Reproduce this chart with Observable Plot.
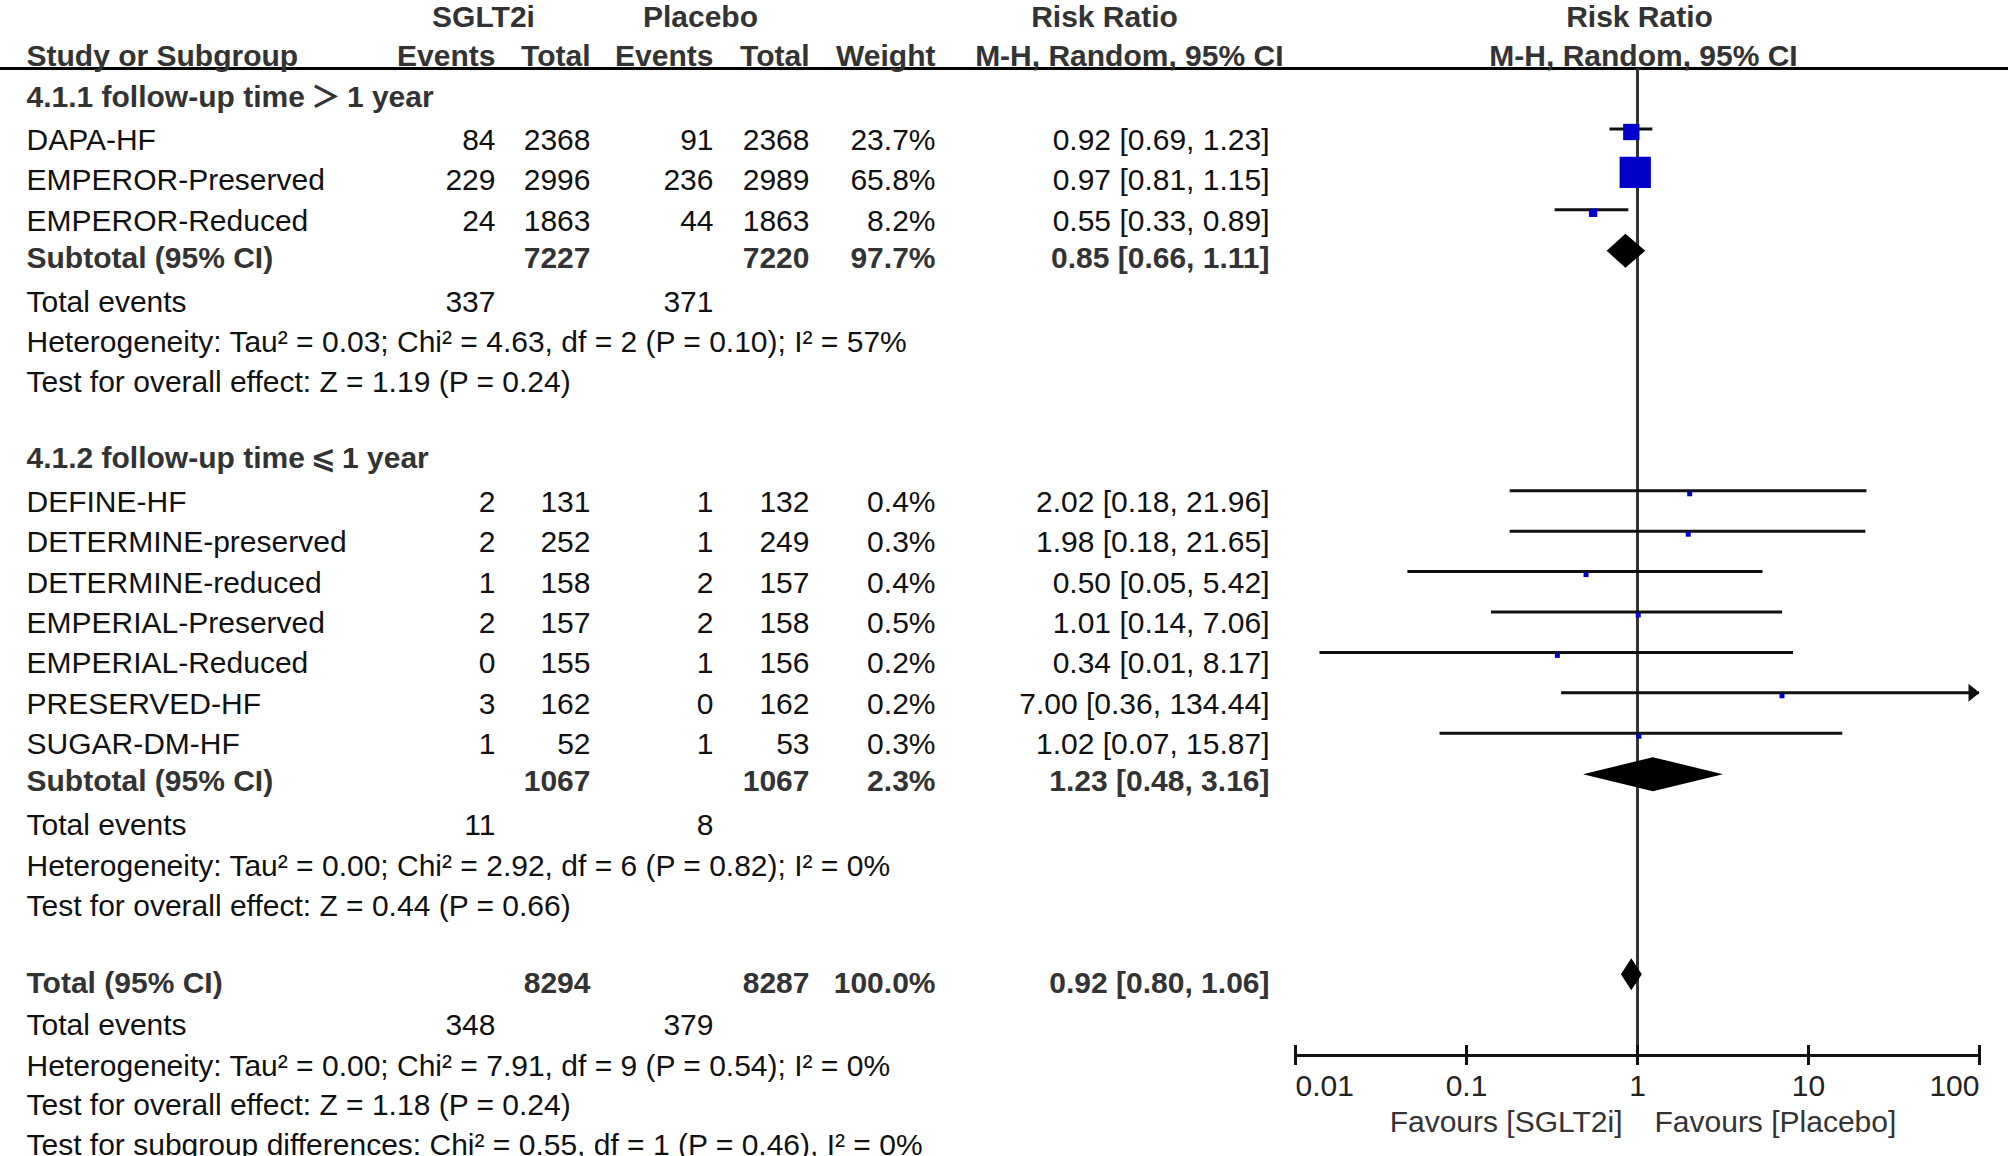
<!DOCTYPE html>
<html>
<head>
<meta charset="utf-8">
<script src="https://cdn.jsdelivr.net/npm/d3@7"></script>
<script src="https://cdn.jsdelivr.net/npm/@observablehq/plot@0.6"></script>
<style>
html, body { margin: 0; padding: 0; background: #fff; overflow: hidden; }
</style>
</head>
<body>
<div id="chart"></div>
<script>
// ---------------- DATA ----------------
const groupLabels = ["4.1.1 follow-up time\u2009\uFF1E\u20091 year", "4.1.2 follow-up time\u2009\u2A7D\u20091 year"];

const g1Study = ["DAPA-HF", "EMPEROR-Preserved", "EMPEROR-Reduced"];
const g1EventsSGLT2i = [84, 229, 24];
const g1TotalSGLT2i = [2368, 2996, 1863];
const g1EventsPlacebo = [91, 236, 44];
const g1TotalPlacebo = [2368, 2989, 1863];
const g1Weight = [23.7, 65.8, 8.2];
const g1RR = [0.92, 0.97, 0.55];
const g1Lower = [0.69, 0.81, 0.33];
const g1Upper = [1.23, 1.15, 0.89];

const g2Study = ["DEFINE-HF", "DETERMINE-preserved", "DETERMINE-reduced", "EMPERIAL-Preserved", "EMPERIAL-Reduced", "PRESERVED-HF", "SUGAR-DM-HF"];
const g2EventsSGLT2i = [2, 2, 1, 2, 0, 3, 1];
const g2TotalSGLT2i = [131, 252, 158, 157, 155, 162, 52];
const g2EventsPlacebo = [1, 1, 2, 2, 1, 0, 1];
const g2TotalPlacebo = [132, 249, 157, 158, 156, 162, 53];
const g2Weight = [0.4, 0.3, 0.4, 0.5, 0.2, 0.2, 0.3];
const g2RR = [2.02, 1.98, 0.50, 1.01, 0.34, 7.00, 1.02];
const g2Lower = [0.18, 0.18, 0.0454, 0.14, 0.0139, 0.36, 0.07];
const g2Upper = [21.96, 21.65, 5.42, 7.06, 8.17, 134.44, 15.87];

const subTotalSGLT2i = [7227, 1067];
const subTotalPlacebo = [7220, 1067];
const subWeight = [97.7, 2.3];
const subRR = [0.85, 1.23];
const subLower = [0.66, 0.48];
const subUpper = [1.11, 3.16];
const subEventsSGLT2i = [337, 11];
const subEventsPlacebo = [371, 8];
const subHeterogeneity = [
  "Heterogeneity: Tau\u00B2 = 0.03; Chi\u00B2 = 4.63, df = 2 (P = 0.10); I\u00B2 = 57%",
  "Heterogeneity: Tau\u00B2 = 0.00; Chi\u00B2 = 2.92, df = 6 (P = 0.82); I\u00B2 = 0%"
];
const subOverall = [
  "Test for overall effect: Z = 1.19 (P = 0.24)",
  "Test for overall effect: Z = 0.44 (P = 0.66)"
];

const totalTotals = [8294, 8287];
const totalWeight = 100.0;
const totalRR = 0.92, totalLower = 0.80, totalUpper = 1.06;
const totalEvents = [348, 379];
const totalHeterogeneity = "Heterogeneity: Tau\u00B2 = 0.00; Chi\u00B2 = 7.91, df = 9 (P = 0.54); I\u00B2 = 0%";
const totalOverall = "Test for overall effect: Z = 1.18 (P = 0.24)";
const subgroupTest = "Test for subgroup differences: Chi\u00B2 = 0.55, df = 1 (P = 0.46), I\u00B2 = 0%";

const headerGroups = ["SGLT2i", "Placebo"];
const headerColumns = ["Study or Subgroup", "Events", "Total", "Events", "Total", "Weight"];
const headerEffect = ["Risk Ratio", "M-H, Random, 95% CI"];
const axisTicks = [0.01, 0.1, 1, 10, 100];
const tickLabels = ["0.01", "0.1", "1", "10", "100"];
const favourLabels = ["Favours [SGLT2i]", "Favours [Placebo]"];

// ---------------- LAYOUT ----------------
const FONT = '"Liberation Sans", Arial, "Noto Sans CJK SC", "DejaVu Sans", sans-serif';
const FS = 30;
const cols = {
  name:   {px: 26,   anchor: "start"},
  ev1:    {px: 495,  anchor: "end"},
  tot1:   {px: 590,  anchor: "end"},
  ev2:    {px: 713,  anchor: "end"},
  tot2:   {px: 809,  anchor: "end"},
  weight: {px: 935,  anchor: "end"},
  ci:     {px: 1269, anchor: "end"},
  grp1:   {px: 483,  anchor: "middle"},
  grp2:   {px: 700,  anchor: "middle"},
  rrHead: {px: 1104, anchor: "middle"},
  mhHead: {px: 1283, anchor: "end"}
};
const f2 = v => v.toFixed(2);
const ciText = (rr, lo, hi) => `${f2(rr)} [${f2(lo)}, ${f2(hi)}]`;
const pct = w => w.toFixed(1) + "%";

const groups = [
  {label: groupLabels[0], study: g1Study, e1: g1EventsSGLT2i, t1: g1TotalSGLT2i, e2: g1EventsPlacebo, t2: g1TotalPlacebo, w: g1Weight, rr: g1RR, lo: g1Lower, hi: g1Upper},
  {label: groupLabels[1], study: g2Study, e1: g2EventsSGLT2i, t1: g2TotalSGLT2i, e2: g2EventsPlacebo, t2: g2TotalPlacebo, w: g2Weight, rr: g2RR, lo: g2Lower, hi: g2Upper}
];

const cells = [];
const studyMarks = [];
const diamonds = [];
const cell = (col, y, text, bold = false) => cells.push({col, y, text: String(text), bold});

// header rows
cell("grp1", 26, headerGroups[0], true);
cell("grp2", 26, headerGroups[1], true);
cell("rrHead", 26, headerEffect[0], true);
["name", "ev1", "tot1", "ev2", "tot2", "weight"].forEach((c, i) => cell(c, 65, headerColumns[i], true));
cell("mhHead", 65, headerEffect[1], true);

let yb = 106;
groups.forEach((g, gi) => {
  if (gi > 0) yb += 76;
  cell("name", yb, g.label, true);
  yb += 43.5;
  g.study.forEach((s, i) => {
    if (i > 0) yb += 40.4;
    cell("name", yb, s);
    cell("ev1", yb, g.e1[i]);
    cell("tot1", yb, g.t1[i]);
    cell("ev2", yb, g.e2[i]);
    cell("tot2", yb, g.t2[i]);
    cell("weight", yb, pct(g.w[i]));
    cell("ci", yb, ciText(g.rr[i], g.lo[i], g.hi[i]));
    studyMarks.push({rr: g.rr[i], lo: g.lo[i], hi: g.hi[i], w: g.w[i], y: yb - 21});
  });
  yb += 37;
  cell("name", yb, "Subtotal (95% CI)", true);
  cell("tot1", yb, subTotalSGLT2i[gi], true);
  cell("tot2", yb, subTotalPlacebo[gi], true);
  cell("weight", yb, pct(subWeight[gi]), true);
  cell("ci", yb, ciText(subRR[gi], subLower[gi], subUpper[gi]), true);
  diamonds.push({id: "sub" + gi, rr: subRR[gi], lo: subLower[gi], hi: subUpper[gi], y: yb - 17, h: 17});
  yb += 44;
  cell("name", yb, "Total events");
  cell("ev1", yb, subEventsSGLT2i[gi]);
  cell("ev2", yb, subEventsPlacebo[gi]);
  yb += 40.5;
  cell("name", yb, subHeterogeneity[gi]);
  yb += 40;
  cell("name", yb, subOverall[gi]);
});
yb += 77.5;
cell("name", yb, "Total (95% CI)", true);
cell("tot1", yb, totalTotals[0], true);
cell("tot2", yb, totalTotals[1], true);
cell("weight", yb, pct(totalWeight), true);
cell("ci", yb, ciText(totalRR, totalLower, totalUpper), true);
diamonds.push({id: "total", rr: totalRR, lo: totalLower, hi: totalUpper, y: yb - 19, h: 16});
yb += 42;
cell("name", yb, "Total events");
cell("ev1", yb, totalEvents[0]);
cell("ev2", yb, totalEvents[1]);
yb += 41;
cell("name", yb, totalHeterogeneity);
yb += 39;
cell("name", yb, totalOverall);
yb += 40;
cell("name", yb, subgroupTest);

const diamondPts = diamonds.flatMap(d => [
  {id: d.id, x: d.lo, y: d.y}, {id: d.id, x: d.rr, y: d.y - d.h},
  {id: d.id, x: d.hi, y: d.y}, {id: d.id, x: d.rr, y: d.y + d.h}, {id: d.id, x: d.lo, y: d.y}
]);

const xMin = d3.min(axisTicks), xMax = d3.max(axisTicks);
const maxW = d3.max(studyMarks, d => d.w);
const squareSide = w => Math.max(5, 31.3 * Math.pow(w / maxW, 0.636));
const arrowHead = {draw(ctx) { ctx.moveTo(0, 0); ctx.lineTo(-11, -9); ctx.lineTo(-11, 9); ctx.closePath(); }};

const HEADER_LINE_Y = 68, AXIS_Y = 1055;

const textMarks = [];
for (const [key, c] of Object.entries(cols)) {
  for (const bold of [false, true]) {
    const data = cells.filter(d => d.col === key && d.bold === bold);
    if (!data.length) continue;
    textMarks.push(Plot.text(data, {
      frameAnchor: "left", dx: c.px, y: "y", text: "text",
      textAnchor: c.anchor, lineAnchor: "bottom",
      fontSize: FS, fontFamily: FONT, fontWeight: bold ? "bold" : "normal",
      fill: bold ? "#333" : "#111"
    }));
  }
}

const chart = Plot.plot({
  width: 2008,
  height: 1156,
  margin: 0,
  style: {background: "#fff", fontFamily: FONT},
  x: {type: "log", domain: [xMin, xMax], range: [1295, 1979], axis: null},
  y: {type: "identity", axis: null},
  r: {type: "identity"},
  marks: [
    Plot.ruleY([HEADER_LINE_Y], {stroke: "#000", strokeWidth: 3}),
    Plot.ruleX([1], {y1: HEADER_LINE_Y, y2: AXIS_Y, stroke: "#333", strokeWidth: 3}),
    // CI lines
    Plot.ruleY(studyMarks, {y: "y", x1: "lo", x2: d => Math.min(d.hi, xMax), stroke: "#111", strokeWidth: 3}),
    Plot.dot(studyMarks.filter(d => d.hi > xMax), {x: d => Math.min(d.hi, xMax), y: "y", symbol: arrowHead, r: 5, fill: "#111", stroke: "none"}),
    // weighted squares
    Plot.dot(studyMarks, {x: "rr", y: d => d.y + 3, symbol: "square", r: d => squareSide(d.w) / Math.sqrt(Math.PI), fill: "#0000c8", stroke: "none"}),
    // diamonds
    Plot.line(diamondPts, {x: "x", y: "y", z: "id", fill: "#000", stroke: "none", curve: "linear"}),
    // axis
    Plot.ruleY([AXIS_Y], {x1: xMin, x2: xMax, stroke: "#111", strokeWidth: 3}),
    Plot.ruleX(axisTicks, {y1: AXIS_Y - 10, y2: AXIS_Y + 10, stroke: "#111", strokeWidth: 3}),
    Plot.text(axisTicks.slice(0, 1), {x: d => d, y: 1095, text: () => tickLabels[0], textAnchor: "start", lineAnchor: "bottom", fontSize: FS, fontFamily: FONT, fill: "#222"}),
    Plot.text(axisTicks.slice(1, -1), {x: d => d, y: 1095, text: (d, i) => tickLabels[i + 1], textAnchor: "middle", lineAnchor: "bottom", fontSize: FS, fontFamily: FONT, fill: "#222"}),
    Plot.text(axisTicks.slice(-1), {x: d => d, y: 1095, text: () => tickLabels[tickLabels.length - 1], textAnchor: "end", lineAnchor: "bottom", fontSize: FS, fontFamily: FONT, fill: "#222"}),
    Plot.text([favourLabels[0]], {x: () => 1, y: 1131, text: d => d, textAnchor: "end", dx: -15, lineAnchor: "bottom", fontSize: FS, fontFamily: FONT, fill: "#333"}),
    Plot.text([favourLabels[1]], {x: () => 1, y: 1131, text: d => d, textAnchor: "start", dx: 17, lineAnchor: "bottom", fontSize: FS, fontFamily: FONT, fill: "#333"}),
    // right-hand effect header centred on the line of no effect
    Plot.text([headerEffect[0]], {x: () => 1, y: 26, text: d => d, textAnchor: "middle", dx: 2, lineAnchor: "bottom", fontSize: FS, fontFamily: FONT, fontWeight: "bold", fill: "#333"}),
    Plot.text([headerEffect[1]], {x: () => 1, y: 65, text: d => d, textAnchor: "middle", dx: 6, lineAnchor: "bottom", fontSize: FS, fontFamily: FONT, fontWeight: "bold", fill: "#333"}),
    ...textMarks
  ]
});
document.getElementById("chart").appendChild(chart);
</script>
</body>
</html>
